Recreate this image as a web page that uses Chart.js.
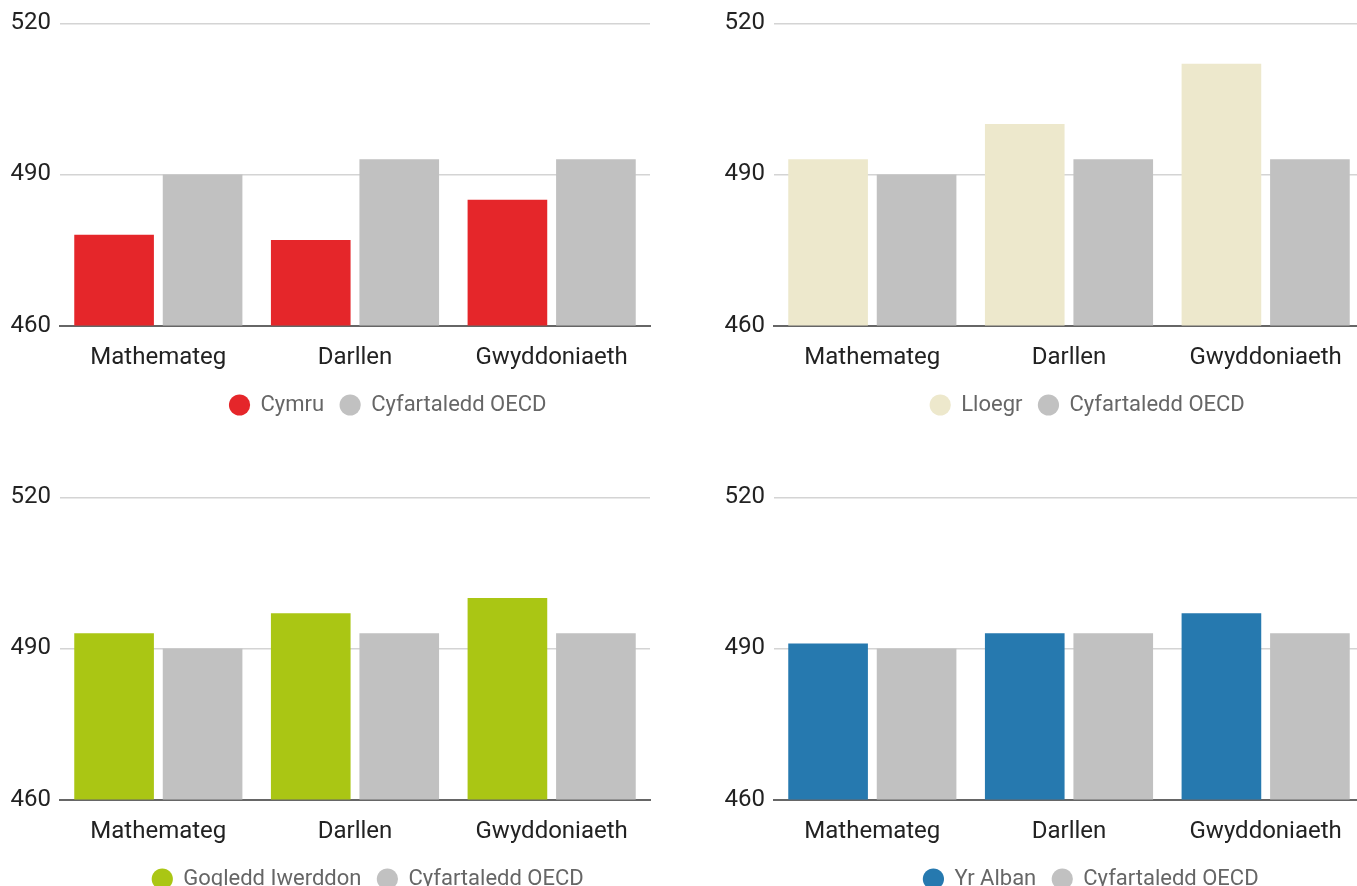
<!DOCTYPE html>
<html><head><meta charset="utf-8">
<script src="https://cdn.jsdelivr.net/npm/chart.js@4.4.1/dist/chart.umd.min.js"></script>
<style>
html,body{margin:0;padding:0;background:#fff;overflow:hidden;width:1357px;height:886px;}
#wrap{position:relative;width:1357px;height:886px;overflow:hidden;background:#fff;}
canvas{position:absolute;}
</style></head><body>
<div id="wrap">
<canvas id="c1" width="776" height="426" style="left:0px;top:0px"></canvas>
<canvas id="c2" width="747" height="426" style="left:714px;top:0px"></canvas>
<canvas id="c3" width="736" height="426" style="left:0px;top:474px"></canvas>
<canvas id="c4" width="754" height="426" style="left:714px;top:474px"></canvas>
</div>
<script>
const categories = ['Mathemateg', 'Darllen', 'Gwyddoniaeth'];
const yTicks = [460, 490, 520];
const oecdLabel = 'Cyfartaledd OECD';
const oecd = [490, 493, 493];
const cymru = [478, 477, 485];
const lloegr = [493, 500, 512];
const gogleddIwerddon = [493, 497, 500];
const yrAlban = [491, 493, 497];

const FONT = 'Roboto, "Noto Sans", sans-serif';

function makeChart(id, label, values, color, legendShift) {
  return new Chart(document.getElementById(id), {
    type: 'bar',
    data: {
      labels: categories,
      datasets: [
        { label: label, data: values, backgroundColor: color, borderWidth: 0,
          categoryPercentage: 0.9, barPercentage: 0.9 },
        { label: oecdLabel, data: oecd, backgroundColor: '#c1c1c1', borderWidth: 0,
          categoryPercentage: 0.9, barPercentage: 0.9 }
      ]
    },
    options: {
      responsive: false,
      animation: false,
      layout: { padding: { top: 22, left: 10, right: 10, bottom: 0 } },
      plugins: {
        tooltip: { enabled: false },
        legend: {
          position: 'bottom',
          labels: {
            usePointStyle: true, pointStyle: 'circle',
            boxWidth: 20, boxHeight: 15, padding: 16,
            color: '#666',
            font: { family: FONT, size: 22 }
          }
        }
      },
      scales: {
        x: {
          z: 1,
          grid: { display: false, drawTicks: false },
          border: { display: true, color: '#666', width: 2 },
          afterFit: s => { s.height = 52.5; },
          ticks: { color: '#222', padding: 18, font: { family: FONT, size: 24, lineHeight: 1.2 } }
        },
        y: {
          min: yTicks[0], max: yTicks[yTicks.length - 1],
          afterBuildTicks: s => { s.ticks = yTicks.map(v => ({ value: v })); },
          afterFit: s => { s.width = 50; },
          border: { display: false },
          grid: {
            drawTicks: false,
            lineWidth: 1.5,
            color: c => (c.tick && c.tick.value === yTicks[0]) ? '#666' : '#d4d4d4'
          },
          ticks: { color: '#222', padding: 9, font: { family: FONT, size: 24 } }
        },
        spacer: {
          type: 'linear', position: 'right', display: true,
          grid: { display: false, drawTicks: false },
          border: { display: false },
          ticks: { display: false },
          afterFit: s => { s.width = legendShift; }
        }
      }
    }
  });
}

makeChart('c1', 'Cymru', cymru, '#e5262a', 116);
makeChart('c2', 'Lloegr', lloegr, '#ede8cc', 87);
makeChart('c3', 'Gogledd Iwerddon', gogleddIwerddon, '#aac614', 76);
makeChart('c4', 'Yr Alban', yrAlban, '#2679af', 94);
</script>
</body></html>
